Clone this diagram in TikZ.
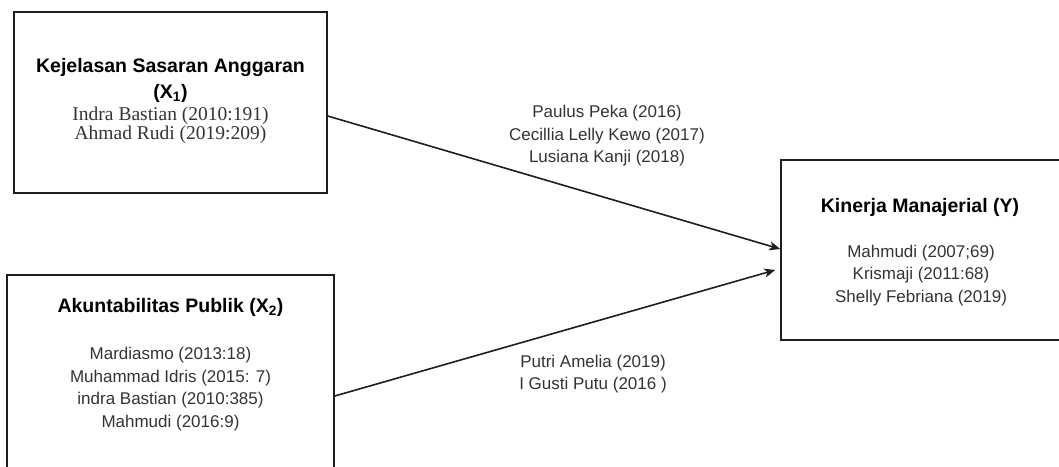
\documentclass[tikz,border=0pt]{standalone}
\usepackage{fontspec}
\setmainfont{Liberation Sans}
\newfontfamily\refserif{Liberation Serif}
\usepackage{xcolor}
\usetikzlibrary{arrows.meta}

\definecolor{inkline}{HTML}{1E1E1E}
\definecolor{inktext}{HTML}{333333}

\tikzset{
	varbox/.style={draw=inkline, line width=1.5pt, inner sep=0pt},
	vartitle/.style={font=\bfseries\fontsize{19.5}{26}\selectfont, align=center, text=black},
	reflist/.style={font=\fontsize{17}{22.6}\selectfont, align=center, text=inktext},
	link/.style={draw=inkline, line width=1.6pt, -{Stealth[length=11pt,width=9pt,inset=3pt]}}
}

\begin{document}
\begin{tikzpicture}[x=1pt,y=-1pt]
		\useasboundingbox (0,0) rectangle (1059,466);
		% boxes
		\node [varbox, minimum width=313pt, minimum height=181pt] (x1) at (170.5,102.5) {};
		\node [varbox, minimum width=327pt, minimum height=205pt] (x2) at (170.5,377.5) {};
		\node [varbox, minimum width=294pt, minimum height=180pt] (y) at (928,250) {};
		% texts in the boxes
		\node [vartitle] (x1t) at (170.5,80) {Kejelasan Sasaran Anggaran\\(X\textsubscript{1})};
		\node [reflist, font=\refserif\fontsize{19.5}{17}\selectfont] (x1r) at (170.5,125.5) {Indra Bastian (2010:191)\\Ahmad Rudi (2019:209)};
		\node [vartitle] (x2t) at (170.5,307) {Akuntabilitas Publik (X\textsubscript{2})};
		\node [reflist] (x2r) at (170.5,389) {Mardiasmo (2013:18)\\Muhammad Idris (2015: 7)\\indra Bastian (2010:385)\\Mahmudi (2016:9)};
		\node [vartitle] (yt) at (920,207) {Kinerja Manajerial (Y)};
		\node [reflist] (yr) at (921,275.5) {Mahmudi (2007;69)\\Krismaji (2011:68)\\Shelly Febriana (2019)};
		% arrows
		\draw [link] ([yshift=-13.5pt]x1.east) -- ([yshift=1pt]y.west);
		\draw [link] ([yshift=-18.5pt]x2.east) -- ([xshift=-5pt,yshift=-20pt]y.west);
		\node [reflist] (l1) at (607,136) {Paulus Peka (2016)\\Cecillia Lelly Kewo (2017)\\Lusiana Kanji (2018)};
		\node [reflist] (l2) at (593,374) {Putri Amelia (2019)\\I Gusti Putu (2016 )};
	\end{tikzpicture}
\end{document}
